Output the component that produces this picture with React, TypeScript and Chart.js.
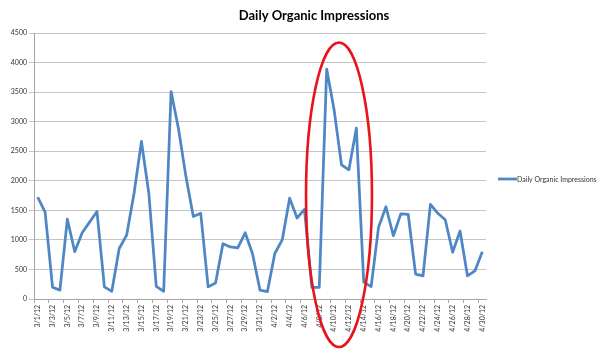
import React, { useEffect, useRef } from 'react';
import { Chart, registerables } from 'chart.js';

Chart.register(...registerables);

const TITLE = 'Daily Organic Impressions';
const SERIES_LABEL = 'Daily Organic Impressions';

const DATES = [
  '3/1/12', '3/2/12', '3/3/12', '3/4/12', '3/5/12', '3/6/12', '3/7/12', '3/8/12', '3/9/12', '3/10/12',
  '3/11/12', '3/12/12', '3/13/12', '3/14/12', '3/15/12', '3/16/12', '3/17/12', '3/18/12', '3/19/12', '3/20/12',
  '3/21/12', '3/22/12', '3/23/12', '3/24/12', '3/25/12', '3/26/12', '3/27/12', '3/28/12', '3/29/12', '3/30/12',
  '3/31/12', '4/1/12', '4/2/12', '4/3/12', '4/4/12', '4/5/12', '4/6/12', '4/7/12', '4/8/12', '4/9/12',
  '4/10/12', '4/11/12', '4/12/12', '4/13/12', '4/14/12', '4/15/12', '4/16/12', '4/17/12', '4/18/12', '4/19/12',
  '4/20/12', '4/21/12', '4/22/12', '4/23/12', '4/24/12', '4/25/12', '4/26/12', '4/27/12', '4/28/12', '4/29/12',
  '4/30/12',
];

const IMPRESSIONS = [
  1725, 1470, 200, 150, 1350, 800, 1120, 1300, 1480, 205,
  130, 855, 1080, 1785, 2665, 1785, 215, 130, 3510, 2880,
  2075, 1395, 1450, 205, 270, 935, 880, 865, 1120, 760,
  150, 125, 770, 1000, 1705, 1370, 1515, 195, 195, 3890,
  3200, 2270, 2185, 2890, 285, 210, 1215, 1560, 1070, 1440,
  1430, 420, 390, 1600, 1450, 1340, 790, 1150, 390, 475,
  800,
];

const Y_MIN = 0;
const Y_MAX = 4500;
const Y_STEP = 500;

// Highlight ellipse in data units (category index, value)
const HIGHLIGHT_CENTER_INDEX = 40.66;
const HIGHLIGHT_CENTER_VALUE = 1763;
const HIGHLIGHT_HALF_WIDTH_CATEGORIES = 4.45;
const HIGHLIGHT_HALF_HEIGHT_VALUE = 2576;

const LINE_COLOR = '#4f86c4';
const TEXT_COLOR = '#333333';

export default function App() {
  const ref = useRef<HTMLCanvasElement | null>(null);

  useEffect(() => {
    document.body.style.margin = '0';
    const canvas = ref.current;
    if (!canvas) return;

    const overlay = {
      id: 'overlay',
      afterDraw(chart: any) {
        const ctx = chart.ctx;
        const xs = chart.scales.x;
        const ys = chart.scales.y;
        ctx.save();
        // title
        ctx.fillStyle = '#000';
        ctx.font = 'bold 13px Lato, "Open Sans", sans-serif';
        ctx.textAlign = 'center';
        ctx.textBaseline = 'middle';
        ctx.fillText(TITLE, 314, 16);

        // legend
        const ly = (chart.chartArea.top + chart.chartArea.bottom) / 2 + 13;
        const lx = chart.chartArea.right + 12;
        ctx.strokeStyle = LINE_COLOR;
        ctx.lineWidth = 2.75;
        ctx.beginPath();
        ctx.moveTo(lx, ly);
        ctx.lineTo(lx + 19, ly);
        ctx.stroke();
        ctx.fillStyle = TEXT_COLOR;
        ctx.font = '7px Lato, "Open Sans", sans-serif';
        ctx.textAlign = 'left';
        ctx.fillText(SERIES_LABEL, lx + 19, ly + 0.5);

        // red highlight ellipse
        const cx = xs.getPixelForValue(HIGHLIGHT_CENTER_INDEX);
        const rx = xs.getPixelForValue(HIGHLIGHT_CENTER_INDEX + HIGHLIGHT_HALF_WIDTH_CATEGORIES) - cx;
        const cy = ys.getPixelForValue(HIGHLIGHT_CENTER_VALUE);
        const ry = cy - ys.getPixelForValue(HIGHLIGHT_CENTER_VALUE + HIGHLIGHT_HALF_HEIGHT_VALUE);
        ctx.strokeStyle = '#e8141c';
        ctx.lineWidth = 2.6;
        ctx.beginPath();
        ctx.ellipse(cx, cy, rx, ry, 0, 0, Math.PI * 2);
        ctx.stroke();
        ctx.restore();
      },
    };

    const chart = new Chart(canvas, {
      type: 'line',
      data: {
        labels: DATES,
        datasets: [
          {
            label: SERIES_LABEL,
            data: IMPRESSIONS,
            borderColor: LINE_COLOR,
            backgroundColor: LINE_COLOR,
            borderWidth: 2.75,
            pointRadius: 0,
            tension: 0,
            borderJoinStyle: 'round',
          },
        ],
      },
      options: {
        responsive: false,
        animation: false,
        layout: { padding: { left: 0, right: 114, top: 33, bottom: 0 } },
        plugins: {
          legend: { display: false },
          title: { display: false },
          tooltip: { enabled: false },
        },
        scales: {
          x: {
            type: 'category',
            offset: true,
            afterFit: (s: any) => { s.height = 54; },
            grid: {
              display: true,
              offset: true,
              drawOnChartArea: false,
              drawTicks: true,
              tickLength: 4,
              color: (c: any) => (c.index % 2 === 0 ? '#a6a6a6' : 'rgba(0,0,0,0)'),
            },
            border: { display: true, color: '#a6a6a6', width: 1 },
            ticks: {
              autoSkip: false,
              maxRotation: 90,
              minRotation: 90,
              padding: 2,
              color: TEXT_COLOR,
              font: { size: 7, family: 'Lato, "Open Sans", sans-serif' },
              callback: (_v: any, i: number) => (i % 2 === 0 ? DATES[i] : ''),
            },
          },
          y: {
            min: Y_MIN,
            max: Y_MAX,
            afterFit: (s: any) => { s.width = 34; },
            grid: {
              color: '#c4c4c4',
              lineWidth: 1,
              drawTicks: true,
              tickLength: 5,
            },
            border: { display: true, color: '#a6a6a6', width: 1 },
            ticks: {
              stepSize: Y_STEP,
              padding: 2,
              color: TEXT_COLOR,
              font: { size: 7, family: 'Lato, "Open Sans", sans-serif' },
              callback: (v: any) => String(v),
            },
          },
        },
      },
      plugins: [overlay],
    } as any);

    return () => chart.destroy();
  }, []);

  return (
    <div style={{ width: 600, height: 353 }}>
      <canvas ref={ref} width={600} height={353} style={{ display: 'block' }} />
    </div>
  );
}
